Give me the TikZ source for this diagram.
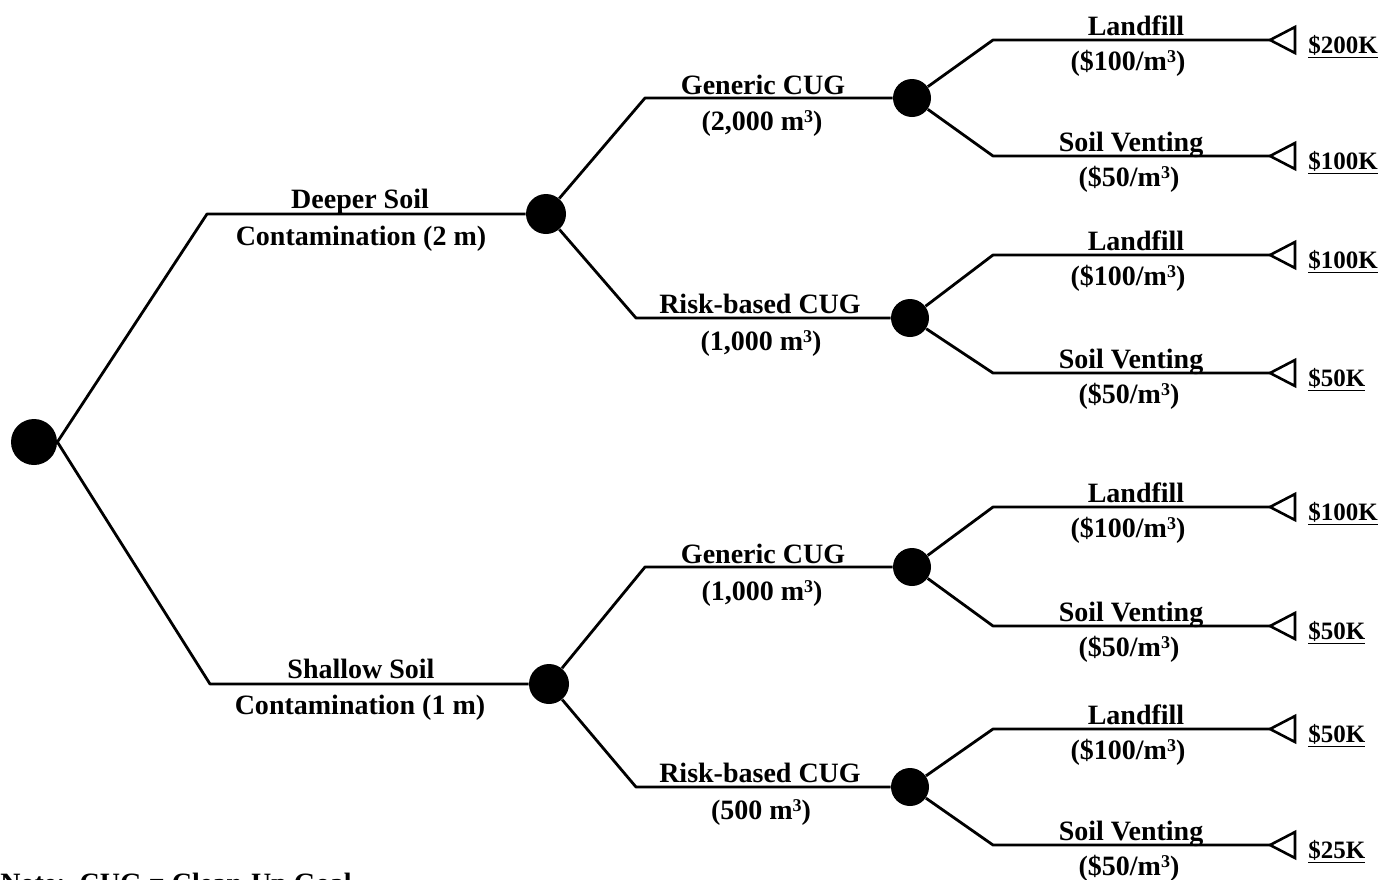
\documentclass[tikz,border=0pt]{standalone}
\usepackage{fontspec}
\setmainfont{Liberation Serif}
\newcommand{\cubed}{\raisebox{0.55ex}{\fontsize{9}{9}\selectfont 3}}
\begin{document}
\begin{tikzpicture}[x=0.5pt,y=-0.5pt,
  dot/.style={circle, fill=black, draw=none, inner sep=0pt, minimum size=#1},
  br/.style={line width=1.4pt, line join=round},
  lab/.style={font=\fontsize{14}{16}\selectfont\bfseries, inner sep=0pt, anchor=base},
  val/.style={font=\fontsize{12.5}{14}\selectfont\bfseries, inner sep=0pt, anchor=base west},
  note/.style={font=\fontsize{14}{16}\selectfont\bfseries, inner sep=0pt, anchor=base west},
  tri/.style={line width=1.3pt, line join=miter}]
\useasboundingbox (0,0) rectangle (1380,879);

% decision nodes
\node[dot=23pt] (root) at (34,442) {};
\node[dot=20pt] (n1) at (546,214) {};
\node[dot=20pt] (n2) at (549,684) {};
\node[dot=19pt] (n11) at (912,98) {};
\node[dot=19pt] (n12) at (910,318) {};
\node[dot=19pt] (n21) at (912,567) {};
\node[dot=19pt] (n22) at (910,787) {};

% corners
\coordinate (c1) at (207,214);
\coordinate (c2) at (210,684);
\coordinate (c11) at (645,98);
\coordinate (c12) at (636,318);
\coordinate (c21) at (645,567);
\coordinate (c22) at (636,787);
\coordinate (k1) at (993,40);
\coordinate (k2) at (993,156);
\coordinate (k3) at (993,255);
\coordinate (k4) at (993,373);
\coordinate (k5) at (993,507);
\coordinate (k6) at (993,626);
\coordinate (k7) at (993,729);
\coordinate (k8) at (993,845);
% terminal points
\coordinate (t1) at (1270,40);
\coordinate (t2) at (1270,156);
\coordinate (t3) at (1270,255);
\coordinate (t4) at (1270,373);
\coordinate (t5) at (1270,507);
\coordinate (t6) at (1270,626);
\coordinate (t7) at (1270,729);
\coordinate (t8) at (1270,845);

% branches
\draw[br] (root.east) -- (c1) -- (n1);
\draw[br] (root.east) -- (c2) -- (n2);
\draw[br] (n1) -- (c11) -- (n11);
\draw[br] (n1) -- (c12) -- (n12);
\draw[br] (n2) -- (c21) -- (n21);
\draw[br] (n2) -- (c22) -- (n22);
\draw[br] (n11) -- (k1) -- (t1);
\draw[br] (n11) -- (k2) -- (t2);
\draw[br] (n12) -- (k3) -- (t3);
\draw[br] (n12) -- (k4) -- (t4);
\draw[br] (n21) -- (k5) -- (t5);
\draw[br] (n21) -- (k6) -- (t6);
\draw[br] (n22) -- (k7) -- (t7);
\draw[br] (n22) -- (k8) -- (t8);

% terminal triangles
\foreach \t in {t1,t2,t3,t4,t5,t6,t7,t8}
  \draw[tri] (\t) -- ++(25,-13) -- ++(0,26) -- cycle;

% level 1 labels
\node[lab] (a1) at (360,208) {Deeper Soil};
\node[lab] (a2) at (361,245) {Contamination (2 m)};
\node[lab] (b1) at (361,678) {Shallow Soil};
\node[lab] (b2) at (360,714) {Contamination (1 m)};

% level 2 labels
\node[lab] (g1) at (763,94) {Generic CUG};
\node[lab] (g2) at (762,130) {(2,000 m\cubed)};
\node[lab] (r1) at (760,313) {Risk-based CUG};
\node[lab] (r2) at (761,350) {(1,000 m\cubed)};
\node[lab] (g3) at (763,563) {Generic CUG};
\node[lab] (g4) at (762,600) {(1,000 m\cubed)};
\node[lab] (r3) at (760,782) {Risk-based CUG};
\node[lab] (r4) at (761,819) {(500 m\cubed)};

% leaf labels
\node[lab] (L1) at (1136,35) {Landfill};
\node[lab] (L1b) at (1128,70) {(\$100/m\cubed)};
\node[lab] (S1) at (1131,151) {Soil Venting};
\node[lab] (S1b) at (1129,186) {(\$50/m\cubed)};
\node[lab] (L2) at (1136,250) {Landfill};
\node[lab] (L2b) at (1128,285) {(\$100/m\cubed)};
\node[lab] (S2) at (1131,368) {Soil Venting};
\node[lab] (S2b) at (1129,403) {(\$50/m\cubed)};
\node[lab] (L3) at (1136,502) {Landfill};
\node[lab] (L3b) at (1128,537) {(\$100/m\cubed)};
\node[lab] (S3) at (1131,621) {Soil Venting};
\node[lab] (S3b) at (1129,656) {(\$50/m\cubed)};
\node[lab] (L4) at (1136,724) {Landfill};
\node[lab] (L4b) at (1128,759) {(\$100/m\cubed)};
\node[lab] (S4) at (1131,840) {Soil Venting};
\node[lab] (S4b) at (1129,875) {(\$50/m\cubed)};

% values
\node[val] (v1) at (1308,53) {\underline{\$200K}};
\node[val] (v2) at (1308,169) {\underline{\$100K}};
\node[val] (v3) at (1308,268) {\underline{\$100K}};
\node[val] (v4) at (1308,386) {\underline{\$50K}};
\node[val] (v5) at (1308,520) {\underline{\$100K}};
\node[val] (v6) at (1308,639) {\underline{\$50K}};
\node[val] (v7) at (1308,742) {\underline{\$50K}};
\node[val] (v8) at (1308,858) {\underline{\$25K}};

% note (cut off at the bottom edge, as in the reference)
\begin{scope}
\clip (0,0) rectangle (1380,879);
\node[note] (nt) at (0,892) {Note:\ \ CUG = Clean-Up Goal};
\end{scope}
\end{tikzpicture}
\end{document}
